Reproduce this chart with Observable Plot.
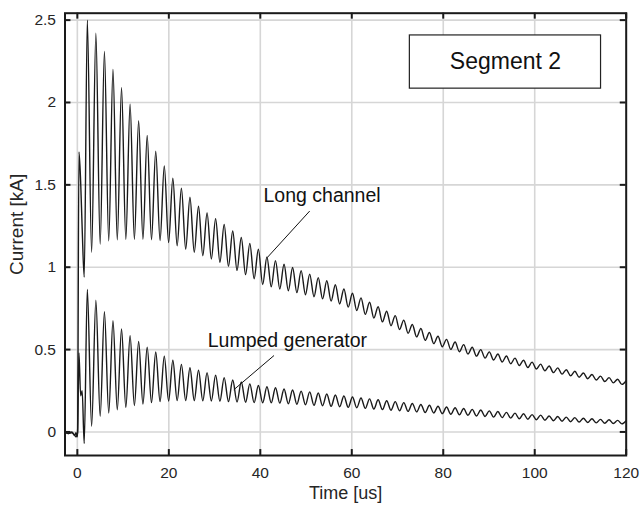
<!DOCTYPE html>
<html>
<head>
<meta charset="utf-8">
<script src="https://cdn.jsdelivr.net/npm/d3@7"></script>
<script src="https://cdn.jsdelivr.net/npm/@observablehq/plot@0.6"></script>
<style>
  html, body { margin: 0; padding: 0; background: #fff; }
  #chart svg { display: block; }
</style>
</head>
<body>
<div id="chart"></div>
<script>
// Axis ticks
const xTicks = [0, 20, 40, 60, 80, 100, 120];
const yTicks = [0, 0.5, 1, 1.5, 2, 2.5];

// Start of the record (trigger and first swing), time in us
const leadT      = [-2.7, -2.0, -1.2, -0.6, -0.3, -0.05, 0.05, 0.35, 0.72, 1.05, 1.5];
const longLead   = [0.0, -0.01, 0.0, -0.02, -0.005, -0.03, 0.0, 1.70, 1.52, 1.24, 0.94];
const lumpedLead = [0.0, -0.01, -0.005, -0.02, -0.03, -0.02, 0.0, 0.48, 0.22, 0.25, -0.07];

// Times of the oscillation maxima and minima, us
const peakT = [2.18, 4.05, 5.92, 7.79, 9.66, 11.53, 13.40, 15.27, 17.14, 19.01,
  20.88, 22.75, 24.62, 26.49, 28.36, 30.23, 32.10, 33.97, 35.84, 37.71,
  39.58, 41.45, 43.32, 45.19, 47.06, 48.93, 50.80, 52.67, 54.54, 56.41,
  58.28, 60.15, 62.02, 63.89, 65.76, 67.63, 69.50, 71.37, 73.24, 75.11,
  76.98, 78.85, 80.72, 82.59, 84.46, 86.33, 88.20, 90.07, 91.94, 93.81,
  95.68, 97.55, 99.42, 101.29, 103.16, 105.03, 106.90, 108.77, 110.64, 112.51,
  114.38, 116.25, 118.12, 119.99];
const troughT = [3.12, 4.99, 6.86, 8.73, 10.60, 12.47, 14.34, 16.21, 18.08, 19.95,
  21.82, 23.69, 25.56, 27.43, 29.30, 31.17, 33.04, 34.91, 36.78, 38.65,
  40.52, 42.39, 44.26, 46.13, 48.00, 49.87, 51.74, 53.61, 55.48, 57.35,
  59.22, 61.09, 62.96, 64.83, 66.70, 68.57, 70.44, 72.31, 74.18, 76.05,
  77.92, 79.79, 81.66, 83.53, 85.40, 87.27, 89.14, 91.01, 92.88, 94.75,
  96.62, 98.49, 100.36, 102.23, 104.10, 105.97, 107.84, 109.71, 111.58, 113.45,
  115.32, 117.19, 119.06];

// Long channel, kA
const longPeak = [2.50, 2.42, 2.31, 2.20, 2.09, 1.99, 1.89, 1.80, 1.705, 1.615,
  1.54, 1.48, 1.425, 1.37, 1.33, 1.295, 1.26, 1.22, 1.18, 1.145,
  1.11, 1.062, 1.04, 1.018, 0.998, 0.979, 0.958, 0.937, 0.918, 0.894,
  0.868, 0.842, 0.814, 0.787, 0.76, 0.733, 0.706, 0.679, 0.652, 0.628,
  0.604, 0.581, 0.562, 0.546, 0.53, 0.514, 0.50, 0.486, 0.473, 0.461,
  0.448, 0.435, 0.424, 0.412, 0.40, 0.389, 0.378, 0.368, 0.358, 0.349,
  0.339, 0.33, 0.32, 0.311];
const longTrough = [1.09, 1.14, 1.16, 1.167, 1.17, 1.17, 1.17, 1.167, 1.162, 1.15,
  1.13, 1.11, 1.09, 1.07, 1.05, 1.03, 1.005, 0.98, 0.955, 0.93,
  0.895, 0.881, 0.868, 0.857, 0.846, 0.833, 0.821, 0.808, 0.794, 0.777,
  0.758, 0.737, 0.714, 0.691, 0.668, 0.645, 0.622, 0.599, 0.577, 0.556,
  0.536, 0.517, 0.501, 0.487, 0.473, 0.46, 0.448, 0.437, 0.425, 0.414,
  0.403, 0.391, 0.382, 0.371, 0.36, 0.351, 0.341, 0.332, 0.323, 0.315,
  0.306, 0.298, 0.289];

// Lumped generator, kA
const lumpedPeak = [0.865, 0.80, 0.73, 0.675, 0.625, 0.585, 0.55, 0.515, 0.485, 0.46,
  0.435, 0.41, 0.39, 0.375, 0.36, 0.345, 0.33, 0.315, 0.303, 0.292,
  0.282, 0.274, 0.268, 0.261, 0.255, 0.248, 0.243, 0.236, 0.23, 0.224,
  0.218, 0.212, 0.206, 0.201, 0.195, 0.189, 0.184, 0.178, 0.173, 0.167,
  0.162, 0.156, 0.151, 0.147, 0.142, 0.137, 0.133, 0.128, 0.124, 0.119,
  0.114, 0.11, 0.105, 0.102, 0.097, 0.094, 0.09, 0.087, 0.083, 0.08,
  0.076, 0.074, 0.07, 0.068];
const lumpedTrough = [0.035, 0.095, 0.115, 0.135, 0.15, 0.16, 0.17, 0.178, 0.184, 0.188,
  0.19, 0.19, 0.19, 0.189, 0.188, 0.186, 0.184, 0.182, 0.18, 0.178,
  0.177, 0.177, 0.175, 0.171, 0.168, 0.165, 0.161, 0.159, 0.155, 0.153,
  0.149, 0.147, 0.143, 0.139, 0.136, 0.132, 0.129, 0.125, 0.122, 0.118,
  0.115, 0.111, 0.107, 0.104, 0.101, 0.097, 0.094, 0.09, 0.087, 0.084,
  0.08, 0.077, 0.074, 0.071, 0.068, 0.065, 0.062, 0.06, 0.057, 0.055,
  0.053, 0.051, 0.049];

// Assemble one waveform: lead-in, then alternating maxima and minima
function waveform(lead, peaks, troughs) {
  const pts = leadT.map((t, i) => ({t, v: lead[i]}));
  peaks.forEach((v, k) => {
    pts.push({t: peakT[k], v});
    if (k < troughs.length) pts.push({t: troughT[k], v: troughs[k]});
  });
  return pts;
}
const longData = waveform(longLead, longPeak, longTrough);
const lumpedData = waveform(lumpedLead, lumpedPeak, lumpedTrough);

const xDomain = [-2.7, 120];
const yDomain = [-0.143, 2.542];
const tickX = 1.3;    // inward tick length in x units
const tickY = 0.036;  // inward tick length in y units

const font = "'Liberation Sans', Arial, sans-serif";
const ink = "#1a1a1a";

const chart = Plot.plot({
  width: 643,
  height: 514,
  marginLeft: 64.5,
  marginRight: 17.3,
  marginTop: 12.7,
  marginBottom: 59,
  style: {fontFamily: font, fontSize: "15.5px", color: "#262626", background: "#fff"},
  x: {domain: xDomain, ticks: xTicks},
  y: {domain: yDomain, ticks: yTicks},
  marks: [
    Plot.gridX(xTicks, {stroke: "#d6d6d6", strokeOpacity: 1, strokeWidth: 1.6}),
    Plot.gridY(yTicks, {stroke: "#d6d6d6", strokeOpacity: 1, strokeWidth: 1.6}),
    // inward tick marks on all four sides
    Plot.ruleX(xTicks, {x: d => d, y1: yDomain[0], y2: yDomain[0] + tickY, stroke: ink, strokeWidth: 2}),
    Plot.ruleX(xTicks, {x: d => d, y1: yDomain[1] - tickY, y2: yDomain[1], stroke: ink, strokeWidth: 2}),
    Plot.ruleY(yTicks, {y: d => d, x1: xDomain[0], x2: xDomain[0] + tickX, stroke: ink, strokeWidth: 2}),
    Plot.ruleY(yTicks, {y: d => d, x1: xDomain[1] - tickX, x2: xDomain[1], stroke: ink, strokeWidth: 2}),
    Plot.axisX(xTicks, {tickSize: 0, tickPadding: 11, fontSize: 15.5, label: null}),
    Plot.axisY(yTicks, {tickSize: 0, tickPadding: 9, fontSize: 15.5, label: null, tickFormat: d => String(d)}),
    Plot.text(["Time [us]"], {frameAnchor: "bottom", dy: 43, text: d => d, fontSize: 18, fill: "#262626"}),
    Plot.text(["Current [kA]"], {x: xDomain[0], y: 1.26, rotate: -90, dx: -48, text: d => d, fontSize: 19, fill: "#262626"}),
    Plot.line(lumpedData, {x: "t", y: "v", stroke: ink, strokeWidth: 1.4, curve: "monotone-x"}),
    Plot.line(longData, {x: "t", y: "v", stroke: ink, strokeWidth: 1.4, curve: "monotone-x"}),
    // annotations
    Plot.text(["Long channel"], {x: 40.7, y: 1.436, text: d => d, textAnchor: "start", fontSize: 19.5, fill: "#111"}),
    Plot.link([0], {x1: 50.8, y1: 1.341, x2: 41.5, y2: 1.058, stroke: "#111", strokeWidth: 1}),
    Plot.text(["Lumped generator"], {x: 28.5, y: 0.556, text: d => d, textAnchor: "start", fontSize: 19.5, fill: "#111"}),
    Plot.link([0], {x1: 43.0, y1: 0.464, x2: 34.2, y2: 0.256, stroke: "#111", strokeWidth: 1}),
    Plot.rect([0], {x1: 72.7, x2: 114.5, y1: 2.084, y2: 2.407, fill: "#fff", stroke: "#222", strokeWidth: 1.2}),
    Plot.text(["Segment 2"], {x: 93.6, y: 2.245, text: d => d, fontSize: 23, fill: "#111"}),
    Plot.frame({stroke: ink, strokeWidth: 2})
  ]
});
document.getElementById("chart").append(chart);
</script>
</body>
</html>
